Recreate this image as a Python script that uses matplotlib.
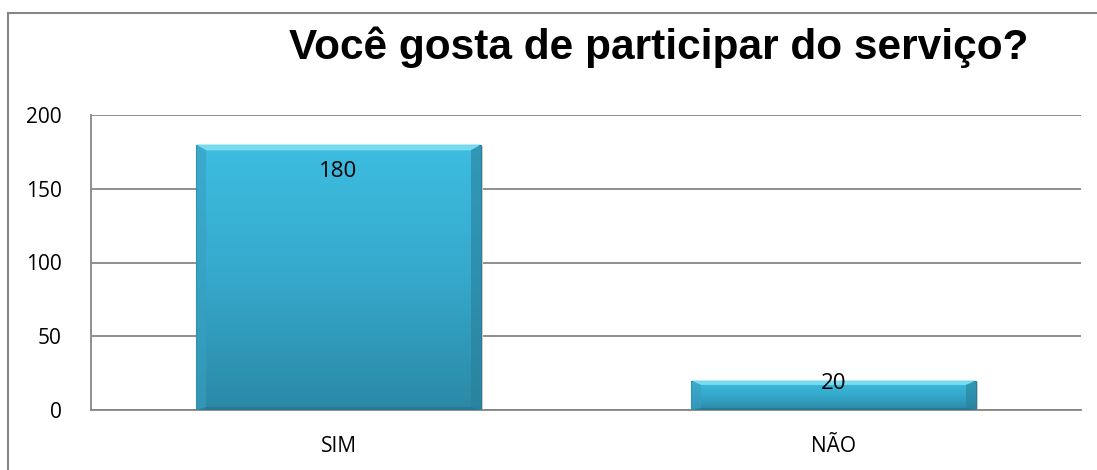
import numpy as np
import matplotlib.pyplot as plt
from matplotlib.patches import Rectangle, Polygon
from matplotlib.lines import Line2D
from matplotlib.colors import LinearSegmentedColormap

# dados
categorias = ["SIM", "NÃO"]
valores = [180, 20]
titulo = "Você gosta de participar do serviço?"

fig = plt.figure(figsize=(10.97, 4.70), dpi=100)
# moldura cortada (so topo e esquerda visiveis)
fig.add_artist(Line2D([8 / 1097, 1], [1 - 13 / 470] * 2, transform=fig.transFigure,
                      color="#868686", linewidth=1.5))
fig.add_artist(Line2D([8 / 1097] * 2, [0, 1 - 13 / 470], transform=fig.transFigure,
                      color="#868686", linewidth=1.5))

ax = fig.add_axes([91 / 1097, 60 / 470, 990 / 1097, 295 / 470])
ax.set_xlim(-0.5, 1.5)
ax.set_ylim(0, 200)
ax.set_yticks([0, 50, 100, 150, 200])
ax.yaxis.grid(True, color="#868686", linewidth=1.3)
ax.set_axisbelow(True)
for s in ["top", "right"]:
    ax.spines[s].set_visible(False)
for s in ["left", "bottom"]:
    ax.spines[s].set_color("#868686")
    ax.spines[s].set_linewidth(1.3)
ax.tick_params(length=0, labelsize=15)
ax.tick_params(axis="x", pad=19)
ax.tick_params(axis="y", pad=21)
ax.set_xticks(range(len(categorias)))
ax.set_xticklabels(categorias)
for t in ax.get_xticklabels() + ax.get_yticklabels():
    t.set_fontfamily("Open Sans")

cmap = LinearSegmentedColormap.from_list("barra", ["#2b89a6", "#35a9cc", "#3dbde0"])
grad = np.linspace(0, 1, 256).reshape(-1, 1)
largura = 0.575
for i, v in enumerate(valores):
    x0, x1 = i - largura / 2, i + largura / 2
    # sombra
    ax.add_patch(Rectangle((x0 + 0.004, -1.2), largura, v, facecolor="#d0d0d0", edgecolor="none", zorder=2))
    im = ax.imshow(grad, extent=[x0, x1, 0, v], origin="lower", cmap=cmap, aspect="auto", zorder=3)
    r = Rectangle((x0, 0), largura, v, facecolor="none", edgecolor="#2a7f9a", linewidth=0.8, zorder=4)
    ax.add_patch(r)
    im.set_clip_path(r)
    # bisel
    bx = 0.02
    by = min(4, v * 0.15)
    ax.add_patch(Polygon([(x0, v), (x1, v), (x1 - bx, v - by), (x0 + bx, v - by)],
                         facecolor="#7fe0f2", edgecolor="none", alpha=0.9, zorder=4))
    ax.add_patch(Polygon([(x1, v), (x1, 0), (x1 - bx, 0), (x1 - bx, v - by)],
                         facecolor="#2a7f9a", edgecolor="none", alpha=0.6, zorder=4))
    ax.add_patch(Polygon([(x0, v), (x0, 0), (x0 + bx, 0), (x0 + bx, v - by)],
                         facecolor="#3a9fc0", edgecolor="none", alpha=0.6, zorder=4))
    ax.add_patch(Polygon([(x0, 0), (x1, 0), (x1 - bx, by * 0.5), (x0 + bx, by * 0.5)],
                         facecolor="#23708a", edgecolor="none", alpha=0.6, zorder=4))
    ax.text(i, v - min(20, v * 0.1), str(v), ha="center", va="center", fontsize=16,
            fontfamily="Open Sans", zorder=5)

fig.text(659 / 1097, 1 - 47 / 470, titulo, ha="center", va="center", fontsize=30.5,
         fontweight="bold", fontfamily="Liberation Sans")

fig.savefig("out.png", dpi=100)
